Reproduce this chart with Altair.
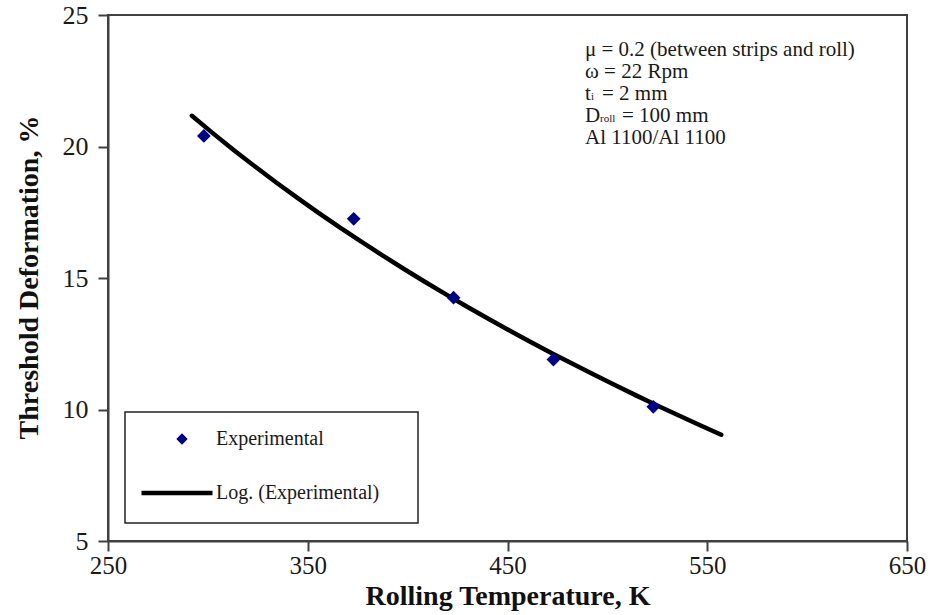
import altair as alt
import pandas as pd

# Measured threshold deformation at each rolling temperature
temperature_k = [298, 373, 423, 473, 523]
threshold_pct = [20.4, 17.25, 14.25, 11.9, 10.1]

# Axis ticks
x_ticks = [250, 350, 450, 550, 650]
y_ticks = [5, 10, 15, 20, 25]

# Range over which the logarithmic trend line is drawn
fit_extent = [292, 557]

series_point = "Experimental"
series_fit = "Log. (Experimental)"

FONT = "Liberation Serif"
INK = "#1a1a1a"
FRAME = "#404040"

points = pd.DataFrame({"T": temperature_k, "D": threshold_pct, "series": series_point})

x_enc = alt.X(
    "T:Q",
    scale=alt.Scale(domain=[250, 650], nice=False, zero=False),
    axis=alt.Axis(
        values=x_ticks,
        title="Rolling Temperature, K",
        labelPadding=2,
        labelFontSize=25,
        titleY=63,
        titleBaseline="alphabetic",
        labelFlush=False,
    ),
)
y_enc = alt.Y(
    "D:Q",
    scale=alt.Scale(domain=[5, 25], nice=False, zero=False),
    axis=alt.Axis(
        values=y_ticks,
        title="Threshold Deformation, %",
        labelPadding=10,
        titleX=-71,
        titleY=262,
        titleAngle=270,
        titleBaseline="alphabetic",
        titleAlign="center",
    ),
)

legend_common = dict(
    title=None,
    orient="none",
    padding=0,
    labelFont=FONT,
    labelFontSize=20,
    labelColor=INK,
    labelLimit=400,
)

# Frame around the legend entries
legend_box = (
    alt.Chart(pd.DataFrame({"k": [0]}))
    .mark_rect(fill="white", stroke="#222222", strokeWidth=1.5)
    .encode(x=alt.value(17), x2=alt.value(310), y=alt.value(397), y2=alt.value(508))
)

fit_line = (
    alt.Chart(points)
    .transform_regression("T", "D", method="log", extent=fit_extent)
    .transform_calculate(fit=f'"{series_fit}"')
    .mark_line(strokeWidth=4.5, strokeCap="round", clip=True)
    .encode(
        x=x_enc,
        y=y_enc,
        color=alt.Color(
            "fit:N",
            scale=alt.Scale(domain=[series_fit], range=["black"]),
            legend=alt.Legend(
                legendX=31,
                legendY=440,
                symbolType="stroke",
                symbolSize=5041,
                symbolStrokeWidth=4.5,
                labelOffset=1,
                **legend_common,
            ),
        ),
    )
)

markers = (
    alt.Chart(points)
    .mark_point(shape="diamond", filled=True, size=190, opacity=1)
    .encode(
        x=x_enc,
        y=y_enc,
        color=alt.Color(
            "series:N",
            scale=alt.Scale(domain=[series_point], range=["#00008B"]),
            legend=alt.Legend(
                legendX=64,
                legendY=414,
                symbolType="diamond",
                symbolSize=130,
                symbolStrokeWidth=0,
                labelOffset=24,
                **legend_common,
            ),
        ),
    )
)

# Rolling conditions written in the upper right corner
note_x = 477
note_rows = [35, 57, 79, 101, 123]
base = alt.Chart(pd.DataFrame({"k": [0]}))


def note(text, row, dx=0, size=20, dy=0):
    return base.mark_text(
        text=text, align="left", baseline="middle", font=FONT, fontSize=size,
        color=INK, dx=dx, dy=dy,
    ).encode(x=alt.value(note_x), y=alt.value(row))


notes = [
    note("μ = 0.2 (between strips and roll)", note_rows[0], size=21),
    note("ω = 22 Rpm", note_rows[1], size=21),
    note("t", note_rows[2], size=21),
    note("i", note_rows[2], dx=6, size=11, dy=3),
    note("= 2 mm", note_rows[2], dx=17, size=21),
    note("D", note_rows[3], size=21),
    note("roll", note_rows[3], dx=15, size=11, dy=3),
    note("= 100 mm", note_rows[3], dx=37, size=21),
    note("Al 1100/Al 1100", note_rows[4], size=21),
]

chart = (
    alt.layer(legend_box, fit_line, markers, *notes)
    .resolve_scale(color="independent")
    .properties(
        width=799,
        height=526,
        autosize=alt.AutoSizeParams(type="none"),
        padding={"left": 108, "top": 15, "right": 24, "bottom": 74},
        background="white",
    )
    .configure_view(stroke=FRAME, strokeWidth=2)
    .configure_axis(
        grid=False,
        domainColor=FRAME,
        domainWidth=2,
        tickColor=FRAME,
        tickWidth=2,
        tickSize=10,
        labelFont=FONT,
        labelFontSize=26,
        labelColor=INK,
        titleFont=FONT,
        titleFontSize=28,
        titleFontWeight="bold",
        titleColor="#111111",
    )
)

chart.save("out.html", embed_options={"renderer": "svg", "actions": False})
